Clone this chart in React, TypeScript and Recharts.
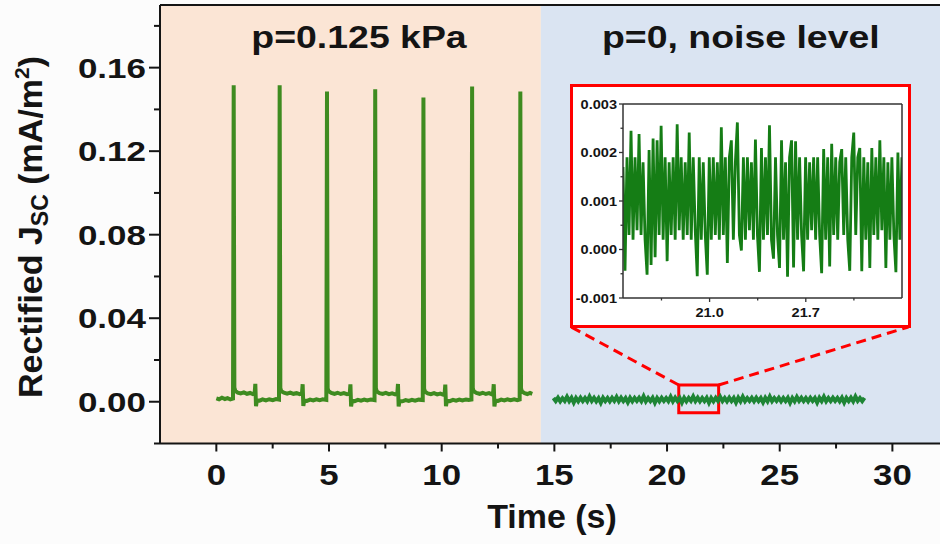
import React from "react";
import {
  LineChart,
  Line,
  XAxis,
  YAxis,
  ReferenceArea,
  ReferenceLine,
  Label,
} from "recharts";

// pressed trace, p = 0.125 kPa (time in s, Jsc in mA/m2)
const loadTime = [
  0.0, 0.12, 0.25, 0.38, 0.5, 0.62, 0.74, 0.77, 0.8, 0.84, 0.95, 1.08, 1.22, 1.36, 1.5, 1.62, 1.7, 1.73, 1.76, 1.8,
  1.92, 2.05, 2.2, 2.35, 2.5, 2.65, 2.78, 2.81, 2.84, 2.88, 3.0, 3.14, 3.28, 3.42, 3.56, 3.7, 3.8, 3.83, 3.86, 3.9,
  4.02, 4.16, 4.3, 4.44, 4.58, 4.72, 4.88, 4.91, 4.94, 4.98, 5.1, 5.24, 5.38, 5.52, 5.66, 5.8, 5.92, 5.95, 5.98, 6.02,
  6.14, 6.28, 6.42, 6.56, 6.7, 6.86, 7.02, 7.05, 7.08, 7.12, 7.24, 7.38, 7.52, 7.66, 7.8, 7.94, 8.03, 8.06, 8.09, 8.13,
  8.26, 8.4, 8.54, 8.68, 8.82, 8.98, 9.16, 9.19, 9.22, 9.26, 9.38, 9.52, 9.66, 9.8, 9.94, 10.06, 10.13, 10.16, 10.19,
  10.23, 10.36, 10.5, 10.64, 10.78, 10.92, 11.08, 11.2, 11.32, 11.35, 11.38, 11.42, 11.54, 11.68, 11.82, 11.96, 12.1,
  12.22, 12.28, 12.31, 12.34, 12.38, 12.5, 12.64, 12.78, 12.92, 13.06, 13.22, 13.36, 13.46, 13.49, 13.52, 13.56, 13.68,
  13.8, 13.92, 14.02,
];
const loadJsc = [
  0.0016, 0.0012, 0.0019, 0.0013, 0.0017, 0.0011, 0.0015, 0.1516, 0.0068, 0.0052, 0.0044, 0.004, 0.0045, 0.0038,
  0.0042, 0.0037, 0.004, 0.0086, -0.0021, 0.0007,
  0.0005, 0.0011, 0.0006, 0.0012, 0.0008, 0.0013, 0.001, 0.1516, 0.0066, 0.0051, 0.0043, 0.0039, 0.0044, 0.0038,
  0.0041, 0.0036, 0.004, 0.0084, -0.002, 0.0006,
  0.0004, 0.001, 0.0006, 0.0011, 0.0007, 0.0012, 0.0009, 0.1486, 0.0064, 0.005, 0.0042, 0.0038, 0.0043, 0.0037,
  0.0041, 0.0036, 0.0039, 0.0083, -0.0022, 0.0005,
  0.0003, 0.0009, 0.0005, 0.001, 0.0006, 0.0011, 0.0008, 0.1496, 0.0065, 0.0049, 0.0041, 0.0037, 0.0042, 0.0036,
  0.004, 0.0035, 0.0038, 0.0085, -0.0023, 0.0004,
  0.0002, 0.0008, 0.0004, 0.0009, 0.0005, 0.001, 0.0008, 0.1457, 0.0063, 0.0048, 0.004, 0.0036, 0.0041, 0.0035,
  0.0039, 0.0034, 0.0037, 0.0082, -0.0021,
  0.0005, 0.0003, 0.0009, 0.0005, 0.001, 0.0006, 0.0011, 0.0008, 0.001, 0.151, 0.0066, 0.005, 0.0042, 0.0038, 0.0043,
  0.0037, 0.0041,
  0.0036, 0.0039, 0.0084, -0.0022, 0.0006, 0.0004, 0.001, 0.0006, 0.0011, 0.0007, 0.0012, 0.0008, 0.0011, 0.1486,
  0.0064, 0.0049, 0.0041,
  0.0037, 0.0042, 0.0038,
];

// released trace, p = 0 (noise level), sampled every noiseStep s
const noiseStart = 14.96;
const noiseStep = 0.1;
const noiseJsc = [
  0.0018, 0.0003, 0.0019, 0.0002, 0.0017, 0.0004, 0.0024, 0.0003, 0.0019, -0.0004,
  0.0018, 0.0002, 0.0019, 0.0003, 0.0018, 0.0002, 0.0025, 0.0004, 0.0019, 0.0002,
  0.0017, -0.0005, 0.0019, 0.0003, 0.0018, 0.0002, 0.0019, 0.0004, 0.0023, 0.0002,
  0.0019, 0.0003, 0.0018, -0.0003, 0.0019, 0.0002, 0.0018, 0.0004, 0.0019, 0.0003,
  0.0026, 0.0002, 0.0018, 0.0003, 0.0019, -0.0005, 0.0018, 0.0002, 0.0019, 0.0004,
  0.0018, 0.0003, 0.0024, 0.0002, 0.0019, 0.0003, 0.0018, -0.0004, 0.0019, 0.0002,
  0.0018, 0.0004, 0.0025, 0.0003, 0.0019, 0.0002, 0.0018, 0.0003, 0.0019, -0.0005,
  0.0018, 0.0002, 0.0019, 0.0004, 0.0023, 0.0003, 0.0018, 0.0002, 0.0019, 0.0003,
  0.0018, -0.0004, 0.0019, 0.0002, 0.0024, 0.0003, 0.0018, 0.0004, 0.0019, 0.0002,
  0.0019, 0.0003, 0.0018, -0.0003, 0.0019, 0.0002, 0.0025, 0.0003, 0.0018, 0.0004,
  0.0019, 0.0002, 0.0018, 0.0003, 0.0019, -0.0005, 0.0018, 0.0002, 0.0023, 0.0004,
  0.0019, 0.0003, 0.0018, 0.0002, 0.0019, 0.0004, 0.0018, -0.0004, 0.0019, 0.0003,
  0.0024, 0.0002, 0.0018, 0.0003, 0.0019, 0.0004, 0.0018, 0.0002, 0.0019, -0.0004,
  0.0018, 0.0003, 0.0019, 0.0002, 0.0025, 0.0004, 0.0018, 0.0003, 0.0019,
];

// zoomed window of the noise (inset)
const insetStart = 20.37;
const insetStep = 0.0146;
const insetJsc = [
  0.0017, -0.00044, 0.0019, 0.0003, 0.00245, 0.0002, 0.0019, 0.0004, 0.00238, 0.0003,
  0.0018, 0.0002, -0.00052, 0.00205, -0.00032, 0.00229, -0.00016, 0.00225, 0.0003, 0.00255,
  0.0002, 0.0019, -0.00024, 0.0018, 0.0003, 0.0019, 0.0002, 0.00258, 0.0004, 0.0019,
  0.0002, 0.0018, 0.0003, 0.00241, 0.0002, 0.0019, 0.0004, -0.00055, 0.0019, 0.0002,
  0.0018, 0.0003, -0.00052, 0.0019, 0.0002, 0.0019, 0.0003, 0.0018, 0.0002, 0.00252,
  0.0003, 0.0019, -0.00028, 0.0019, 0.00225, 0.0002, 0.0018, 0.00262, 0.0003, -0.00002,
  0.0019, 0.0002, 0.0019, 0.0004, 0.0018, 0.0002, 0.00227, 0.0003, -0.00046, 0.00209,
  0.0002, 0.0019, 0.0003, 0.00256, 0.0002, -0.00019, 0.0019, 0.0003, -0.00038, 0.00225,
  0.0002, 0.0018, -0.00056, 0.0019, 0.00225, -0.00037, 0.00223, 0.0002, 0.0019, 0.0003,
  -0.00045, 0.0019, 0.0002, 0.0018, 0.0004, 0.0019, 0.0002, 0.0019, 0.0003, -0.00049,
  0.00207, 0.0002, 0.0019, -0.00035, 0.00218, 0.0003, 0.0019, 0.0002, 0.0018, 0.00207,
  0.0003, 0.0019, 0.0002, -0.00044, 0.0019, 0.00241, 0.0003, 0.0019, 0.00209, -0.00045,
  0.0019, 0.0002, 0.0018, -0.00038, 0.00209, 0.0003, 0.0019, 0.0002, 0.00225, 0.0004,
  0.0019, -0.00038, 0.0018, 0.0002, 0.0019, 0.0003, -0.00047, 0.002, 0.0002, 0.0019,
];

const xTicks = [2.5, 5, 7.5, 10, 12.5, 15, 17.5, 20, 22.5, 25, 27.5, 30, 32.5, 0];
const yTicks = [-0.02, 0, 0.02, 0.04, 0.06, 0.08, 0.1, 0.12, 0.14, 0.16, 0.18];
const insetXTicks = [20.65, 21.0, 21.35, 21.7, 22.05];
const insetYTicks = [-0.001, -0.0005, 0, 0.0005, 0.001, 0.0015, 0.002, 0.0025, 0.003];

const panelSplit = 14.4;
const zoomBox = { x1: 20.52, x2: 22.29, y1: -0.0053, y2: 0.008 };

const loadData = loadTime.map((t, i) => ({ t, j: loadJsc[i] }));
const noiseData = noiseJsc.map((j, i) => ({ t: noiseStart + i * noiseStep, j }));
const insetData = insetJsc.map((j, i) => ({ t: insetStart + i * insetStep, j }));

const FONT = "'Liberation Sans', Arial, sans-serif";
const INK = "#141414";

function BoldText({ x, y, size, sx = 1, anchor = "middle", children }: any) {
  return (
    <text
      transform={`translate(${x},${y}) scale(${sx},1)`}
      textAnchor={anchor}
      fontSize={size}
      fontWeight={700}
      fontFamily={FONT}
      fill={INK}
    >
      {children}
    </text>
  );
}

const MainXTick = ({ x, y, payload }: any) => {
  const major = payload.value % 5 === 0;
  return (
    <g>
      <line x1={x} y1={y} x2={x} y2={y + (major ? 8 : 5)} stroke={INK} strokeWidth={2} />
      {major && (
        <BoldText x={x} y={y + 41.5} size={29} sx={1.2}>
          {payload.value}
        </BoldText>
      )}
    </g>
  );
};

const MainYTick = ({ x, y, payload }: any) => {
  const major = Math.round(payload.value * 100) % 4 === 0;
  return (
    <g>
      <line x1={x - (major ? 11 : 6)} y1={y} x2={x} y2={y} stroke={INK} strokeWidth={2} />
      {major && (
        <BoldText x={x - 14} y={y + 10} size={28} sx={1.25} anchor="end">
          {payload.value.toFixed(2)}
        </BoldText>
      )}
    </g>
  );
};

const InsetXTick = ({ x, y, payload }: any) => {
  const major = payload.value === 21.0 || payload.value === 21.7;
  return (
    <g>
      <line x1={x} y1={y} x2={x} y2={y + (major ? 4 : 2.5)} stroke="#333" strokeWidth={1.3} />
      {major && (
        <BoldText x={x} y={y + 19} size={13.5} sx={1.08}>
          {payload.value.toFixed(1)}
        </BoldText>
      )}
    </g>
  );
};

const InsetYTick = ({ x, y, payload }: any) => {
  const major = Math.round(payload.value * 10000) % 10 === 0;
  return (
    <g>
      <line x1={x - (major ? 4 : 2.5)} y1={y} x2={x} y2={y} stroke="#333" strokeWidth={1.3} />
      {major && (
        <BoldText x={x - 6} y={y + 4.5} size={13} sx={1.12} anchor="end">
          {payload.value.toFixed(3)}
        </BoldText>
      )}
    </g>
  );
};

function Inset() {
  return (
    <div
      style={{
        position: "absolute",
        left: 570,
        top: 84,
        width: 341,
        height: 244,
        boxSizing: "border-box",
        border: "3px solid #ff0000",
        background: "#ffffff",
      }}
    >
      <LineChart width={335} height={238} margin={{ top: 17, right: 6, bottom: 0, left: 0 }}>
        <XAxis
          type="number"
          dataKey="t"
          domain={[20.37, 22.4]}
          ticks={insetXTicks}
          interval={0}
          allowDataOverflow
          height={27}
          tickSize={0}
          tickMargin={0}
          tick={<InsetXTick />}
          axisLine={{ stroke: "#333", strokeWidth: 1.5 }}
        />
        <YAxis
          type="number"
          domain={[-0.001, 0.003]}
          ticks={insetYTicks}
          interval={0}
          allowDataOverflow
          width={50}
          tickSize={0}
          tickMargin={0}
          tick={<InsetYTick />}
          axisLine={{ stroke: "#333", strokeWidth: 1.5 }}
        />
        <Line
          data={insetData}
          dataKey="j"
          type="linear"
          stroke="#157d15"
          strokeWidth={2.8}
          strokeLinejoin="miter"
          dot={false}
          isAnimationActive={false}
        />
        <ReferenceLine y={0.003} stroke="#333" strokeWidth={1.5} />
        <ReferenceLine x={22.4} stroke="#333" strokeWidth={1.5} />
      </LineChart>
    </div>
  );
}

export default function App() {
  return (
    <div
      style={{
        position: "absolute",
        left: 0,
        top: 0,
        width: 940,
        height: 544,
        overflow: "hidden",
        background: "#fcfcfc",
      }}
    >
      <LineChart width={980} height={544} margin={{ top: 5, right: 20, bottom: 0, left: 0 }}>
        <ReferenceArea x1={-2.5} x2={panelSplit} y1={-0.02} y2={0.19} fill="#fbe5d5" fillOpacity={1} stroke="none">
          <Label
            content={({ viewBox }: any) => (
              <BoldText x={viewBox.x + 199} y={48} size={32} sx={1.17}>
                p=0.125 kPa
              </BoldText>
            )}
          />
        </ReferenceArea>
        <ReferenceArea x1={panelSplit} x2={33} y1={-0.02} y2={0.19} fill="#dae4f2" fillOpacity={1} stroke="none">
          <Label
            content={({ viewBox }: any) => (
              <BoldText x={viewBox.x + 200} y={48} size={32} sx={1.17}>
                p=0, noise level
              </BoldText>
            )}
          />
        </ReferenceArea>
        <XAxis
          type="number"
          dataKey="t"
          domain={[-2.5, 33]}
          ticks={xTicks}
          interval={0}
          allowDataOverflow
          height={100.5}
          tickSize={0}
          tickMargin={0}
          tick={<MainXTick />}
          axisLine={{ stroke: INK, strokeWidth: 2 }}
        >
          <Label
            content={({ viewBox }: any) => (
              <BoldText x={552} y={viewBox.y + 84} size={33} sx={1.03}>
                Time (s)
              </BoldText>
            )}
          />
        </XAxis>
        <YAxis
          type="number"
          domain={[-0.02, 0.19]}
          ticks={yTicks}
          interval={0}
          allowDataOverflow
          width={160}
          tickSize={0}
          tickMargin={0}
          tick={<MainYTick />}
          axisLine={{ stroke: INK, strokeWidth: 2 }}
        >
          <Label
            content={() => (
              <text
                transform="translate(42,227) rotate(-90)"
                textAnchor="middle"
                fontSize={34}
                fontWeight={700}
                fontFamily={FONT}
                fill={INK}
              >
                Rectified J
                <tspan fontSize={23} dy={6}>SC</tspan>
                <tspan dy={-6}> (mA/m</tspan>
                <tspan fontSize={21} dy={-13}>2</tspan>
                <tspan dy={13}>)</tspan>
              </text>
            )}
          />
        </YAxis>
        <Line
          data={loadData}
          dataKey="j"
          type="linear"
          stroke="#3e8b20"
          strokeWidth={4}
          dot={false}
          isAnimationActive={false}
        />
        <Line
          data={noiseData}
          dataKey="j"
          type="linear"
          stroke="#1e8535"
          strokeWidth={4}
          dot={false}
          isAnimationActive={false}
        />
        <ReferenceArea
          x1={zoomBox.x1}
          x2={zoomBox.x2}
          y1={zoomBox.y1}
          y2={zoomBox.y2}
          fill="none"
          stroke="#ff0000"
          strokeWidth={3}
        />
        <ReferenceLine
          segment={[
            { x: zoomBox.x1, y: zoomBox.y2 },
            { x: 15.75, y: 0.0358 },
          ]}
          stroke="#ff0000"
          strokeWidth={3}
          strokeDasharray="10 6"
        />
        <ReferenceLine
          segment={[
            { x: zoomBox.x2, y: zoomBox.y2 },
            { x: 30.71, y: 0.0358 },
          ]}
          stroke="#ff0000"
          strokeWidth={3}
          strokeDasharray="10 6"
        />
        <ReferenceLine y={0.19} stroke={INK} strokeWidth={2} />
      </LineChart>
      <Inset />
    </div>
  );
}
